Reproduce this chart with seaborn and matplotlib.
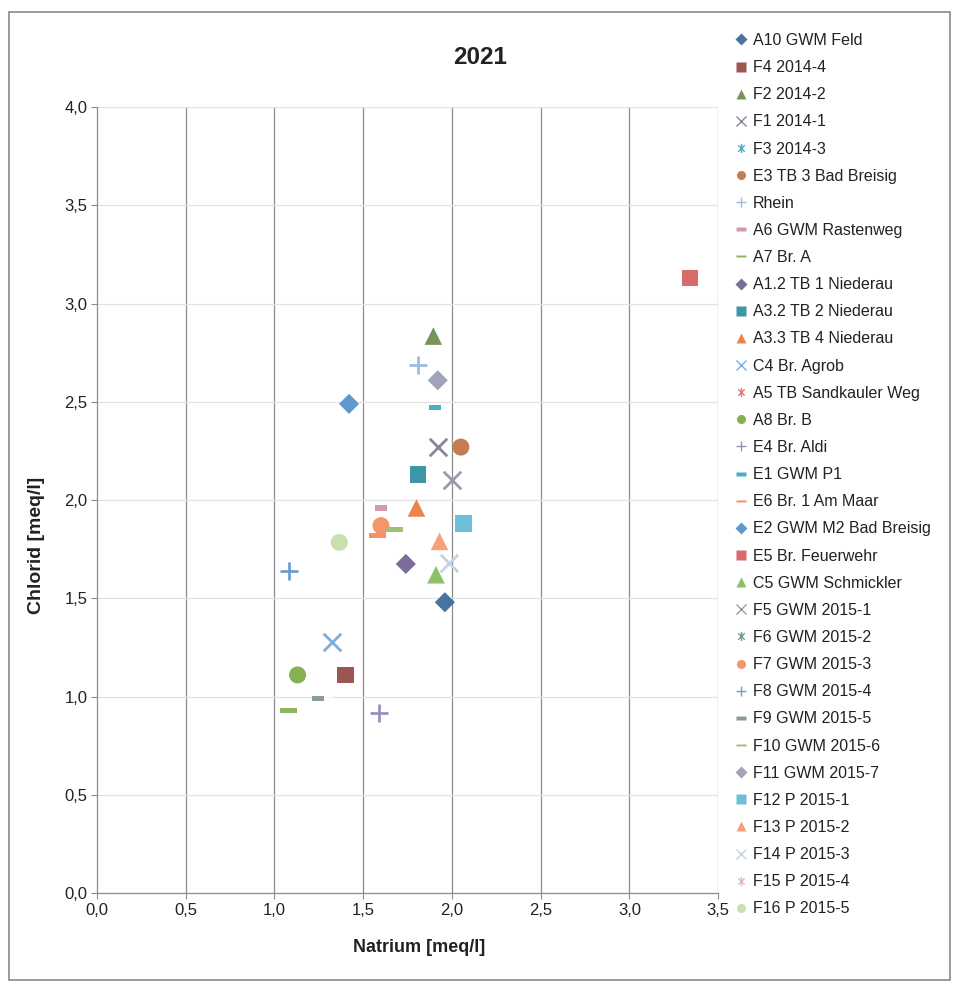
import numpy as np
import pandas as pd
import matplotlib
matplotlib.use("Agg")
import matplotlib.pyplot as plt
import seaborn as sns
from matplotlib.path import Path
from matplotlib.lines import Line2D
from matplotlib.patches import Rectangle
from matplotlib.ticker import FuncFormatter, MultipleLocator

# Sampling points, sodium vs. chloride (meq/l), 2021
names = ["A10 GWM Feld", "F4 2014-4", "F2 2014-2", "F1 2014-1", "F3 2014-3",
         "E3 TB 3 Bad Breisig", "Rhein", "A6 GWM Rastenweg", "A7 Br. A",
         "A1.2 TB 1 Niederau", "A3.2 TB 2 Niederau", "A3.3 TB 4 Niederau",
         "C4 Br. Agrob", "A5 TB Sandkauler Weg", "A8 Br. B", "E4 Br. Aldi",
         "E1 GWM P1", "E6 Br. 1 Am Maar", "E2 GWM M2 Bad Breisig",
         "E5 Br. Feuerwehr", "C5 GWM Schmickler", "F5 GWM 2015-1",
         "F6 GWM 2015-2", "F7 GWM 2015-3", "F8 GWM 2015-4", "F9 GWM 2015-5",
         "F10 GWM 2015-6", "F11 GWM 2015-7", "F12 P 2015-1", "F13 P 2015-2",
         "F14 P 2015-3", "F15 P 2015-4", "F16 P 2015-5"]
natrium = [1.96, 1.40, 1.895, 1.92, 1.91,
           2.05, 1.81, 1.60, 1.08,
           1.74, 1.81, 1.80,
           1.325, 1.65, 1.13, 1.59,
           1.905, 1.58, 1.42,
           3.34, 1.91, 2.00,
           1.29, 1.60, 1.08, 1.245,
           1.675, 1.92, 2.065, 1.93,
           1.985, 2.33, 1.365]
chlorid = [1.48, 1.11, 2.835, 2.27, 1.935,
           2.27, 2.69, 1.96, 0.93,
           1.675, 2.13, 1.96,
           1.28, 1.365, 1.11, 0.915,
           2.47, 1.82, 2.49,
           3.13, 1.62, 2.10,
           1.02, 1.87, 1.64, 0.99,
           1.85, 2.61, 1.88, 1.79,
           1.68, 2.13, 1.785]

colors = ["#46739f", "#9c5550", "#77955a", "#8a86a0", "#45aec2",
          "#c47d4e", "#9dbbe0", "#d49aab", "#8fb461",
          "#7b6c9c", "#3d97a6", "#e9844c",
          "#7aaede", "#e07a78", "#86b052", "#9a8fc0",
          "#4aaec6", "#f39262", "#5d98cf",
          "#d76a6a", "#8cc06a", "#9a9aa8",
          "#6f9799", "#f5956a", "#6aa0d0", "#8a9ba0",
          "#9cc07a", "#a2a2b8", "#6ec0d8", "#f8a07a",
          "#c4d3e6", "#e6b8bd", "#c8e0b0"]

# Marker shapes
def _poly(pts):
    pts = list(pts) + [pts[0]]
    codes = [Path.MOVETO] + [Path.LINETO] * (len(pts) - 2) + [Path.CLOSEPOLY]
    return Path(pts, codes)

def _star():
    verts, codes = [], []
    for a in (45, 135, 90):
        r = np.deg2rad(a)
        verts += [(np.cos(r), np.sin(r)), (-np.cos(r), -np.sin(r))]
        codes += [Path.MOVETO, Path.LINETO]
    return Path(verts, codes)

short_dash = _poly([(-1, -0.45), (1, -0.45), (1, 0.45), (-1, 0.45)])
long_dash = _poly([(-1, -0.28), (1, -0.28), (1, 0.28), (-1, 0.28)])
asterisk = _star()

shape = ["D", "s", "^", "x", "*",
         "o", "+", "sd", "ld",
         "D", "s", "^",
         "x", "*", "o", "+",
         "sd", "ld", "D",
         "s", "^", "x",
         "*", "o", "+", "sd",
         "ld", "D", "s", "^",
         "x", "*", "o"]

marker_map = {"D": ("D", 105, True), "s": ("s", 140, True), "^": ("^", 160, True),
              "o": ("o", 150, True), "x": ("x", 160, False), "+": ("+", 160, False),
              "*": (asterisk, 130, False), "sd": (short_dash, 70, True),
              "ld": (long_dash, 140, True)}

df = pd.DataFrame({"name": names, "natrium": natrium, "chlorid": chlorid,
                   "color": colors, "shape": shape})

sns.set_style("white")
plt.rcParams["font.family"] = ["Liberation Sans", "DejaVu Sans"]

fig = plt.figure(figsize=(9.55, 9.84), dpi=100)
ax = fig.add_axes([0.1016, 0.0925, 0.6504, 0.7985])

for _, row in df.iterrows():
    m, s, filled = marker_map[row["shape"]]
    kw = dict(marker=m, s=s, color=row["color"], zorder=3)
    if filled:
        kw["edgecolor"] = "none"
    else:
        kw["linewidth"] = 2.0
    sns.scatterplot(data=df[df["name"] == row["name"]], x="natrium", y="chlorid",
                    ax=ax, legend=False, **kw)

ax.set_xlim(0, 3.5)
ax.set_ylim(0, 4.0)
ax.xaxis.set_major_locator(MultipleLocator(0.5))
ax.yaxis.set_major_locator(MultipleLocator(0.5))
fmt = FuncFormatter(lambda v, p: f"{v:.1f}".replace(".", ","))
ax.xaxis.set_major_formatter(fmt)
ax.yaxis.set_major_formatter(fmt)

ax.grid(False)
for xv in np.arange(0.5, 3.51, 0.5):
    ax.axvline(xv, color="#8c8c8c", lw=0.9, zorder=1)
for yv in np.arange(0.5, 4.01, 0.5):
    ax.axhline(yv, color="#e2e2e2", lw=0.9, zorder=1)

for side in ("top", "right"):
    ax.spines[side].set_visible(False)
for side in ("left", "bottom"):
    ax.spines[side].set_color("#8c8c8c")
    ax.spines[side].set_linewidth(0.9)

ax.tick_params(axis="both", which="major", direction="out", length=4, width=0.8,
               color="#8c8c8c", labelsize=12, labelcolor="#222222", pad=3,
               left=True, bottom=True)
ax.set_xlabel("Natrium [meq/l]", fontsize=13, fontweight="bold", color="#222222")
ax.set_ylabel("Chlorid [meq/l]", fontsize=14, fontweight="bold", color="#222222")
ax.xaxis.set_label_coords(0.518, -0.058)
ax.yaxis.set_label_coords(-0.084, 0.443)

fig.text(0.503, 0.942, "2021", fontsize=17.5, fontweight="bold", ha="center",
         va="center", color="#222222")

# Legend with small markers
handles = []
for _, row in df.iterrows():
    m, s, filled = marker_map[row["shape"]]
    ms = 6.5 if row["shape"] not in ("sd", "ld") else 7
    h = Line2D([], [], linestyle="none", marker=m, markersize=ms,
               color=row["color"], markeredgecolor=row["color"] if not filled else "none",
               markeredgewidth=1.0)
    handles.append(h)
fig.legend(handles, names, loc="upper left", bbox_to_anchor=(0.763, 0.973),
           frameon=False, fontsize=11.5, labelspacing=0.76, handlelength=0.8,
           handletextpad=0.3, borderaxespad=0, labelcolor="#222222")

# Outer chart border
fig.add_artist(Rectangle((0.009, 0.004), 0.986, 0.984, transform=fig.transFigure,
                         fill=False, edgecolor="#8a8a8a", lw=1.2))

fig.savefig("out.png", dpi=100)
